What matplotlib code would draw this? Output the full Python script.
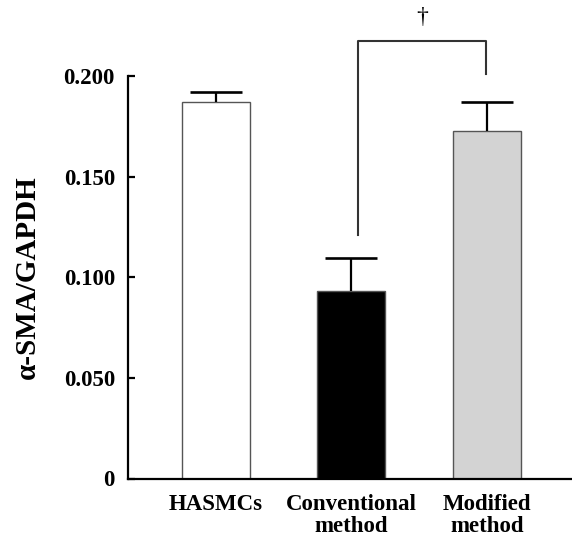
import matplotlib
matplotlib.use("Agg")
import matplotlib.pyplot as plt

categories = ["HASMCs", "Conventional\nmethod", "Modified\nmethod"]
values = [0.187, 0.0934, 0.1727]
errors = [0.005, 0.0164, 0.0145]
bar_colors = ["#ffffff", "#000000", "#d3d3d3"]
yticks = [0, 0.05, 0.10, 0.15, 0.20]
ytick_labels = ["0", "0.050", "0.100", "0.150", "0.200"]
bracket_x = [1.048, 1.993]
bracket_y_bottom = [0.1208, 0.201]
bracket_y_top = 0.2175
sig_label = "\u2020"

plt.rcParams['font.family'] = ['Liberation Serif', 'DejaVu Serif']

fig = plt.figure(figsize=(5.72, 5.39), dpi=100)
ax = fig.add_axes([128/572, 1 - 478.5/539, (571-128)/572, (478.5-76)/539])

x = list(range(len(categories)))
ax.bar(x, values, width=0.502, color=bar_colors, edgecolor="#555555", linewidth=1.0, zorder=2)
eb = ax.errorbar(x, values, yerr=[[0]*len(errors), errors], fmt="none", ecolor="black",
                 elinewidth=1.6, capsize=18.4, capthick=1.9, zorder=3)
for cl in eb[1]:
    yd = list(cl.get_ydata())
    if all(abs(a - b) < 1e-9 for a, b in zip(yd, values)):
        cl.set_visible(False)

ax.set_xlim(-0.649, 2.62)
ax.set_ylim(0, 0.2)
ax.set_yticks(yticks)
ax.set_yticklabels(ytick_labels, fontsize=16.5, fontweight="bold")
ax.set_xticks(x)
ax.set_xticklabels(categories, fontsize=16.5, fontweight="bold", linespacing=1.1)
ax.tick_params(axis="y", direction="in", length=5, width=1.6, pad=9.4)
ax.tick_params(axis="x", length=0, pad=11)
ax.set_ylabel("\u03b1-SMA/GAPDH", fontsize=21, fontweight="bold", labelpad=16)

for s in ["top", "right"]:
    ax.spines[s].set_visible(False)
ax.spines["left"].set_linewidth(1.6)
ax.spines["bottom"].set_linewidth(1.6)
ax.spines["left"].set_bounds(0, 0.2)

# significance bracket
ax.plot([bracket_x[0], bracket_x[0], bracket_x[1], bracket_x[1]],
        [bracket_y_bottom[0], bracket_y_top, bracket_y_top, bracket_y_bottom[1]],
        color="#333333", linewidth=1.5, clip_on=False, zorder=4)
ax.text((bracket_x[0] + bracket_x[1]) / 2, 0.2290, sig_label, ha="center", va="center",
        fontsize=17, clip_on=False)

fig.savefig("out.png", dpi=100)
